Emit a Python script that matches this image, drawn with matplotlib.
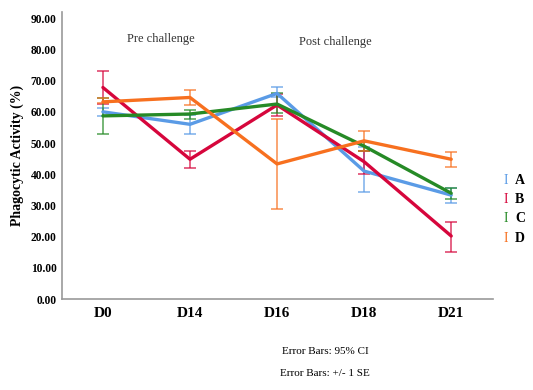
import numpy as np
import matplotlib.pyplot as plt

days = ['D0', 'D14', 'D16', 'D18', 'D21']
groups = ['A', 'B', 'C', 'D']
colors = ['#5a9be6', '#d6063c', '#268a26', '#f7701f']

# mean values per group
mean_a = [60.0, 56.0, 65.9, 41.0, 33.3]
mean_b = [67.8, 44.8, 62.2, 44.0, 20.2]
mean_c = [58.7, 59.3, 62.5, 49.0, 33.9]
mean_d = [63.2, 64.6, 43.3, 50.7, 44.8]

# error bar lower / upper limits
low_a = [58.6, 53.0, 64.6, 34.3, 30.9]
high_a = [61.2, 59.0, 68.0, 48.7, 35.7]
low_b = [62.5, 41.9, 58.8, 40.0, 15.2]
high_b = [73.1, 47.4, 65.6, 47.5, 24.8]
low_c = [52.9, 57.6, 59.5, 47.5, 32.2]
high_c = [64.3, 60.7, 65.9, 50.4, 35.5]
low_d = [62.8, 62.2, 28.8, 47.5, 42.2]
high_d = [64.4, 67.0, 57.7, 53.9, 47.0]

means = [mean_a, mean_b, mean_c, mean_d]
lows = [low_a, low_b, low_c, low_d]
highs = [high_a, high_b, high_c, high_d]

plt.rcParams['font.family'] = ['Liberation Serif', 'DejaVu Serif']

fig = plt.figure(figsize=(5.33, 3.90), dpi=100)
ax = fig.add_axes([62 / 533, 1 - 299 / 390, (493 - 62) / 533, (299 - 12) / 390])

x = np.arange(len(days))
for m, lo, hi, c in zip(means, lows, highs, colors):
    m = np.array(m)
    err = [m - np.array(lo), np.array(hi) - m]
    ax.errorbar(x, m, yerr=err, fmt='none', ecolor=c, elinewidth=1.1,
                capsize=4, capthick=1.1, alpha=0.8, zorder=2)
    ax.plot(x, m, color=c, lw=2.4, zorder=3, solid_capstyle='round')

ax.set_xlim(-0.47, 4.48)
ax.set_ylim(0, 92)
ax.set_yticks(np.arange(0, 91, 10))
ax.set_yticklabels(['%.2f' % v for v in np.arange(0, 91, 10)],
                   fontsize=8.3, fontweight='bold')
ax.set_xticks(x)
ax.set_xticklabels(days, fontsize=11, fontweight='bold')
ax.tick_params(axis='both', length=0)
ax.tick_params(axis='x', pad=6)
ax.tick_params(axis='y', pad=4)

for side in ['top', 'right']:
    ax.spines[side].set_visible(False)
for side in ['left', 'bottom']:
    ax.spines[side].set_color('#999999')
    ax.spines[side].set_linewidth(1.2)

ax.set_ylabel('Phagocytic Activity (%)', fontsize=10, fontweight='bold', labelpad=5)

ax.text(0.67, 83.5, 'Pre challenge', ha='center', va='center', fontsize=9, color='#333333')
ax.text(2.67, 82.5, 'Post challenge', ha='center', va='center', fontsize=9, color='#333333')

# legend drawn as text items
for i, (g, c) in enumerate(zip(groups, colors)):
    yy = 1 - (181 + i * 19) / 390
    fig.text(506 / 533, yy, 'I', color=c, fontsize=10, ha='center', va='center')
    fig.text(515 / 533, yy, g, color='black', fontsize=10, fontweight='bold',
             ha='left', va='center')

fig.text(325 / 533, 1 - 352 / 390, 'Error Bars: 95% CI', ha='center', va='center', fontsize=8)
fig.text(325 / 533, 1 - 373 / 390, 'Error Bars: +/- 1 SE', ha='center', va='center', fontsize=8)

fig.savefig('out.png', dpi=100)
